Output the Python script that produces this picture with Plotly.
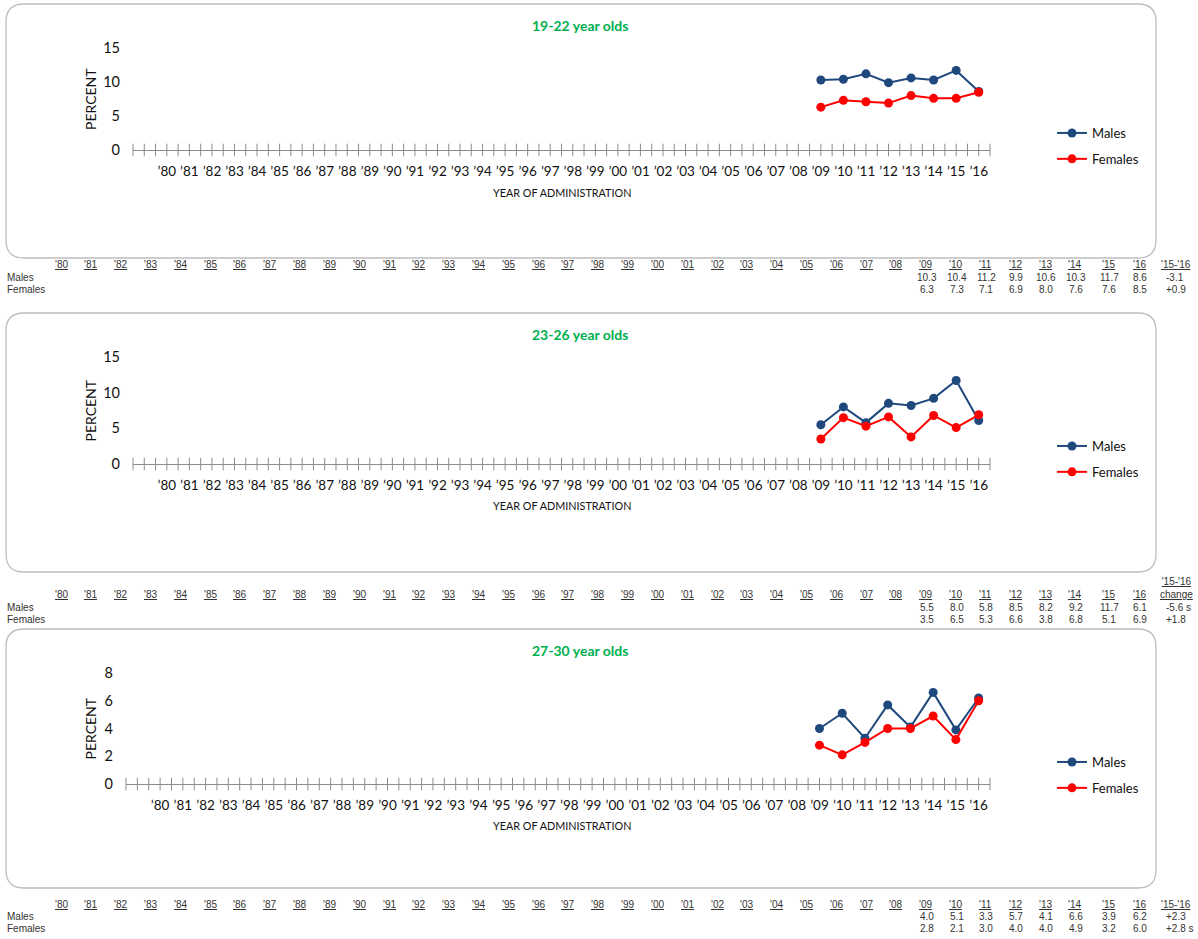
import numpy as np
import plotly.graph_objects as go

W, H = 1198, 939

# ---- data -------------------------------------------------------------
YEARS = [2009, 2010, 2011, 2012, 2013, 2014, 2015, 2016]
TICK_YEARS = list(range(1980, 2017))
TICK_TEXT = ["\u2019" + str(y)[2:] for y in TICK_YEARS]
TABLE_HEADERS = ["'" + str(y)[2:] for y in TICK_YEARS]

PANEL_TITLES = ["19-22 year olds", "23-26 year olds", "27-30 year olds"]

MALES_19_22 = [10.3, 10.4, 11.2, 9.9, 10.6, 10.3, 11.7, 8.6]
FEMALES_19_22 = [6.3, 7.3, 7.1, 6.9, 8.0, 7.6, 7.6, 8.5]

MALES_23_26 = [5.5, 8.0, 5.8, 8.5, 8.2, 9.2, 11.7, 6.1]
FEMALES_23_26 = [3.5, 6.5, 5.3, 6.6, 3.8, 6.8, 5.1, 6.9]

MALES_27_30 = [4.0, 5.1, 3.3, 5.7, 4.1, 6.6, 3.9, 6.2]
FEMALES_27_30 = [2.8, 2.1, 3.0, 4.0, 4.0, 4.9, 3.2, 6.0]

CHANGE_MALES = ["-3.1", "-5.6 s", "+2.3"]
CHANGE_FEMALES = ["+0.9", "+1.8", "+2.8 s"]
CHANGE_HEADER = ["'15-'16", "'15-'16<br>change", "'15-'16"]

Y_MAX = [15, 15, 8]
Y_STEP = [5, 5, 2]

SERIES = [
    (MALES_19_22, FEMALES_19_22),
    (MALES_23_26, FEMALES_23_26),
    (MALES_27_30, FEMALES_27_30),
]

# ---- styling / geometry (pixels) -------------------------------------
MALE_COLOR = "#1F497D"
FEMALE_COLOR = "#FF0000"
AXIS_GRAY = "#8C8C8C"
BOX_GRAY = "#BDBDBD"
TITLE_GREEN = "#00B050"
CHART_FONT = "Lato"
TABLE_FONT = "Liberation Sans"

# plot-area boxes: left, right, top (max value), bottom (zero)
PLOT_BOX = [(133, 990, 48, 150), (133, 990, 357, 464), (126, 990, 673, 784)]
PANEL_BOX = [(6, 4, 1156, 258), (6, 313, 1156, 572), (6, 629, 1156, 888)]
TITLE_Y = [26, 334, 650]
XTITLE_Y = [192, 506, 825]
LEGEND_TOP = [118, 431, 747]
TABLE_Y = [(264, 277, 289), (594, 607, 619), (904, 916, 928)]
CHANGE_HEADER_Y = [264, 588, 904]


def fx(x):
    return x / W


def fy(y):
    return 1 - y / H


def rounded_rect(x0, y0, x1, y1, r):
    X, Y = fx, fy
    return (
        f"M {X(x0 + r)},{Y(y0)} L {X(x1 - r)},{Y(y0)} "
        f"Q {X(x1)},{Y(y0)} {X(x1)},{Y(y0 + r)} L {X(x1)},{Y(y1 - r)} "
        f"Q {X(x1)},{Y(y1)} {X(x1 - r)},{Y(y1)} L {X(x0 + r)},{Y(y1)} "
        f"Q {X(x0)},{Y(y1)} {X(x0)},{Y(y1 - r)} L {X(x0)},{Y(y0 + r)} "
        f"Q {X(x0)},{Y(y0)} {X(x0 + r)},{Y(y0)} Z"
    )


# table column centres
col_x = [61 + i * 29.82 for i in range(len(TICK_YEARS) - 2)] + [1108, 1139]
CHANGE_X = 1176

fig = go.Figure()
layout = dict(
    width=W,
    height=H,
    margin=dict(l=0, r=0, t=0, b=0, autoexpand=False),
    paper_bgcolor="white",
    plot_bgcolor="white",
    showlegend=True,
    annotations=[],
    shapes=[],
)

tick_positions = np.arange(1978.5, 2016.51, 0.5)

for i in range(3):
    sfx = "" if i == 0 else str(i + 1)
    xa, ya = "x" + sfx, "y" + sfx
    leg = "legend" + sfx
    males, females = SERIES[i]
    l, r, t, b = PLOT_BOX[i]

    # cross-shaped axis ticks at category centres and boundaries
    fig.add_trace(go.Scatter(
        x=tick_positions, y=[0] * len(tick_positions), mode="markers",
        marker=dict(symbol="line-ns-open", size=9, color=AXIS_GRAY,
                    line=dict(color=AXIS_GRAY, width=1)),
        xaxis=xa, yaxis=ya, showlegend=False, hoverinfo="skip",
        cliponaxis=False,
    ))
    fig.add_trace(go.Scatter(
        x=YEARS, y=males, mode="lines+markers", name="Males",
        line=dict(color=MALE_COLOR, width=2),
        marker=dict(color=MALE_COLOR, size=9),
        xaxis=xa, yaxis=ya, legend=leg, legendgroup=f"m{i}",
        cliponaxis=False,
    ))
    fig.add_trace(go.Scatter(
        x=YEARS, y=females, mode="lines+markers", name="Females",
        line=dict(color=FEMALE_COLOR, width=2),
        marker=dict(color=FEMALE_COLOR, size=9),
        xaxis=xa, yaxis=ya, legend=leg, legendgroup=f"f{i}",
        cliponaxis=False,
    ))

    layout["xaxis" + sfx] = dict(
        domain=[fx(l), fx(r)], anchor=ya, range=[1978.5, 2016.5],
        tickmode="array", tickvals=TICK_YEARS, ticktext=TICK_TEXT,
        ticks="", showline=True, linecolor=AXIS_GRAY, linewidth=1,
        showgrid=False, zeroline=False, ticklabelstandoff=9,
        tickfont=dict(family=CHART_FONT, size=13.5, color="#111111"),
        fixedrange=True,
    )
    layout["yaxis" + sfx] = dict(
        domain=[fy(b), fy(t)], anchor=xa, range=[0, Y_MAX[i]],
        tickmode="linear", tick0=0, dtick=Y_STEP[i], ticks="",
        showline=False, showgrid=False, zeroline=False,
        ticklabelstandoff=12,
        tickfont=dict(family=CHART_FONT, size=14.5, color="#111111"),
        fixedrange=True,
    )
    layout[leg] = dict(
        x=fx(1052), y=fy(LEGEND_TOP[i]), xanchor="left", yanchor="top",
        bgcolor="rgba(0,0,0,0)", tracegroupgap=6,
        font=dict(family=CHART_FONT, size=13, color="#111111"),
        traceorder="grouped",
    )

    # panel frame
    x0, y0, x1, y1 = PANEL_BOX[i]
    layout["shapes"].append(dict(
        type="path", xref="paper", yref="paper",
        path=rounded_rect(x0, y0, x1, y1, 18),
        line=dict(color=BOX_GRAY, width=1.3), layer="below",
    ))

    ann = layout["annotations"]
    ann.append(dict(
        text=f"<b>{PANEL_TITLES[i]}</b>", x=fx(580), y=fy(TITLE_Y[i]),
        xref="paper", yref="paper", showarrow=False,
        xanchor="center", yanchor="middle",
        font=dict(family=CHART_FONT, size=14, color=TITLE_GREEN),
    ))
    ann.append(dict(
        text="PERCENT", x=fx(90), y=fy((t + b) / 2),
        xref="paper", yref="paper", showarrow=False, textangle=-90,
        xanchor="center", yanchor="middle",
        font=dict(family=CHART_FONT, size=14, color="#111111"),
    ))
    ann.append(dict(
        text="YEAR OF ADMINISTRATION", x=fx(562), y=fy(XTITLE_Y[i]),
        xref="paper", yref="paper", showarrow=False,
        xanchor="center", yanchor="middle",
        font=dict(family=CHART_FONT, size=10.8, color="#111111"),
    ))

    # data table below each panel
    hy, my, fy_row = TABLE_Y[i]
    tfont = dict(family=TABLE_FONT, size=10, color="#333333")
    for cx, label in zip(col_x, TABLE_HEADERS):
        ann.append(dict(
            text=f"<u>{label}</u>", x=fx(cx), y=fy(hy),
            xref="paper", yref="paper", showarrow=False,
            xanchor="center", yanchor="middle", font=tfont,
        ))
    ch_lines = CHANGE_HEADER[i].split("<br>")
    ch_text = "<br>".join(f"<u>{s}</u>" for s in ch_lines)
    ann.append(dict(
        text=ch_text, x=fx(CHANGE_X), y=fy(CHANGE_HEADER_Y[i]),
        xref="paper", yref="paper", showarrow=False,
        xanchor="center", yanchor="middle", font=tfont,
    ))
    ann.append(dict(text="Males", x=fx(5), y=fy(my), xref="paper",
                     yref="paper", showarrow=False, xanchor="left",
                     yanchor="middle", font=tfont))
    ann.append(dict(text="Females", x=fx(5), y=fy(fy_row), xref="paper",
                     yref="paper", showarrow=False, xanchor="left",
                     yanchor="middle", font=tfont))
    first = TICK_YEARS.index(YEARS[0])
    for k, yr in enumerate(YEARS):
        cx = col_x[first + k] + 1
        ann.append(dict(text=f"{males[k]:.1f}", x=fx(cx), y=fy(my),
                         xref="paper", yref="paper", showarrow=False,
                         xanchor="center", yanchor="middle", font=tfont))
        ann.append(dict(text=f"{females[k]:.1f}", x=fx(cx), y=fy(fy_row),
                         xref="paper", yref="paper", showarrow=False,
                         xanchor="center", yanchor="middle", font=tfont))
    ann.append(dict(text=CHANGE_MALES[i], x=fx(CHANGE_X - 12), y=fy(my),
                     xref="paper", yref="paper", showarrow=False,
                     xanchor="left", yanchor="middle", font=tfont))
    ann.append(dict(text=CHANGE_FEMALES[i], x=fx(CHANGE_X - 12), y=fy(fy_row),
                     xref="paper", yref="paper", showarrow=False,
                     xanchor="left", yanchor="middle", font=tfont))

fig.update_layout(**layout)
fig.write_html("out.html")
